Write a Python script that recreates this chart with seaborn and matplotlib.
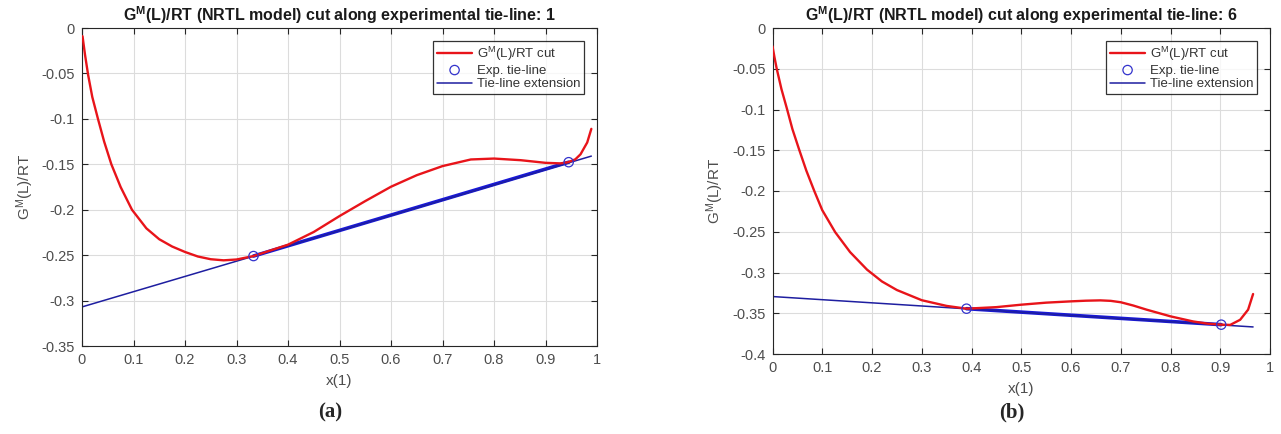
import matplotlib
matplotlib.use("Agg")
import matplotlib.pyplot as plt
import numpy as np
import pandas as pd
import seaborn as sns

# ---------------- data ----------------
# Panel (a): tie-line 1
a_curve_x = [0.001, 0.006, 0.012, 0.020, 0.031, 0.043, 0.057, 0.075, 0.097, 0.125,
             0.150, 0.175, 0.200, 0.225, 0.250, 0.275, 0.300, 0.333, 0.365, 0.400,
             0.450, 0.500, 0.550, 0.600, 0.650, 0.700, 0.755, 0.800, 0.852, 0.900, 0.929,
             0.944, 0.958, 0.968, 0.981, 0.989]
a_curve_y = [-0.009, -0.030, -0.052, -0.076, -0.100, -0.125, -0.150, -0.175, -0.200, -0.2205,
             -0.2325, -0.2405, -0.2465, -0.2515, -0.2545, -0.2557, -0.2548, -0.251, -0.245, -0.2385,
             -0.2245, -0.207, -0.1905, -0.1747, -0.162, -0.152, -0.1447, -0.1437, -0.1455, -0.1484, -0.149,
             -0.1477, -0.1445, -0.139, -0.126, -0.111]
a_tie_x = [0.333, 0.945]
a_tie_y = [-0.251, -0.1477]
a_ext_x = [0.0, 0.989]
a_ext_y = [-0.307, -0.141]

# Panel (b): tie-line 6
b_curve_x = [0.000, 0.004, 0.0085, 0.018, 0.029, 0.040, 0.054, 0.068, 0.084, 0.100, 0.126,
             0.156, 0.190, 0.220, 0.250, 0.300, 0.350, 0.390, 0.450, 0.500, 0.550, 0.600,
             0.630, 0.659, 0.680, 0.700, 0.725, 0.752, 0.800, 0.845, 0.875, 0.902, 0.920,
             0.940, 0.956, 0.966]
b_curve_y = [-0.0224, -0.036, -0.050, -0.075, -0.099, -0.124, -0.150, -0.175, -0.200, -0.2235, -0.2505,
             -0.275, -0.2965, -0.311, -0.3215, -0.334, -0.341, -0.3444, -0.3425, -0.3395, -0.337, -0.3354,
             -0.3346, -0.3342, -0.3348, -0.3365, -0.3405, -0.3456, -0.3538, -0.360, -0.3628, -0.364, -0.3643,
             -0.358, -0.3456, -0.3264]
b_tie_x = [0.390, 0.902]
b_tie_y = [-0.3444, -0.364]
b_ext_x = [0.0, 0.966]
b_ext_y = [-0.3295, -0.3668]

x_ticks = [0, 0.1, 0.2, 0.3, 0.4, 0.5, 0.6, 0.7, 0.8, 0.9, 1]
x_tick_labels = ["0", "0.1", "0.2", "0.3", "0.4", "0.5", "0.6", "0.7", "0.8", "0.9", "1"]
a_y_ticks = [-0.35, -0.3, -0.25, -0.2, -0.15, -0.1, -0.05, 0]
a_y_tick_labels = ["-0.35", "-0.3", "-0.25", "-0.2", "-0.15", "-0.1", "-0.05", "0"]
b_y_ticks = [-0.4, -0.35, -0.3, -0.25, -0.2, -0.15, -0.1, -0.05, 0]
b_y_tick_labels = ["-0.4", "-0.35", "-0.3", "-0.25", "-0.2", "-0.15", "-0.1", "-0.05", "0"]

titles = [r"G$^{\mathbf{M}}$(L)/RT (NRTL model) cut along experimental tie-line: 1",
          r"G$^{\mathbf{M}}$(L)/RT (NRTL model) cut along experimental tie-line: 6"]
panel_labels = ["(a)", "(b)"]
legend_labels = [r"G$^{\mathrm{M}}$(L)/RT cut", "Exp. tie-line", "Tie-line extension"]

# ---------------- style ----------------
sns.set_theme(style="whitegrid")
plt.rcParams["font.family"] = ["Liberation Sans", "DejaVu Sans"]
plt.rcParams["mathtext.fontset"] = "custom"
plt.rcParams["mathtext.rm"] = "Liberation Sans"
plt.rcParams["mathtext.bf"] = "Liberation Sans:bold"
plt.rcParams["mathtext.it"] = "Liberation Sans:italic"
plt.rcParams["axes.unicode_minus"] = False

fig = plt.figure(figsize=(12.81, 4.34), dpi=100)
ax_a = fig.add_axes([82 / 1281, 1 - 346 / 434, (597 - 82) / 1281, (346 - 28) / 434])
ax_b = fig.add_axes([772.5 / 1281, 1 - 354 / 434, (1270 - 772.5) / 1281, (354 - 28) / 434])

RED = "#e8141a"
BLUE = "#1818d8"
BLUE_THIN = "#1e1ea0"

panels = [
    (ax_a, a_curve_x, a_curve_y, a_tie_x, a_tie_y, a_ext_x, a_ext_y, a_y_ticks, a_y_tick_labels, (-0.35, 0)),
    (ax_b, b_curve_x, b_curve_y, b_tie_x, b_tie_y, b_ext_x, b_ext_y, b_y_ticks, b_y_tick_labels, (-0.4, 0)),
]

for i, (ax, cx, cy, tx, ty, ex, ey, yt, ytl, ylim) in enumerate(panels):
    curve = pd.DataFrame({"x": cx, "y": cy})
    tie = pd.DataFrame({"x": tx, "y": ty})
    ext = pd.DataFrame({"x": ex, "y": ey})
    sns.lineplot(data=curve, x="x", y="y", ax=ax, color=RED, linewidth=1.7,
                 sort=False, estimator=None, label=legend_labels[0], zorder=3)
    sns.lineplot(data=tie, x="x", y="y", ax=ax, color=BLUE, linewidth=2.6,
                 sort=False, estimator=None, legend=False, zorder=2)
    sns.scatterplot(data=tie, x="x", y="y", ax=ax, marker="o", s=45,
                    facecolor="none", edgecolor="#3333cc", linewidth=0.9,
                    label=legend_labels[1], zorder=4)
    sns.lineplot(data=ext, x="x", y="y", ax=ax, color=BLUE_THIN, linewidth=1.1,
                 sort=False, estimator=None, label=legend_labels[2], zorder=2)

    ax.set_xlim(0, 1)
    ax.set_ylim(*ylim)
    ax.set_xticks(x_ticks)
    ax.set_xticklabels(x_tick_labels)
    ax.set_yticks(yt)
    ax.set_yticklabels(ytl)
    ax.tick_params(axis="both", which="both", direction="in", length=4, width=0.8,
                   colors="#262626", labelcolor="#4d4d4d", labelsize=10.5,
                   top=True, right=True, bottom=True, left=True, pad=5)
    ax.grid(True, color="#dcdcdc", linewidth=0.8)
    ax.set_facecolor("white")
    for s in ax.spines.values():
        s.set_visible(True)
        s.set_color("#262626")
        s.set_linewidth(0.8)
    ax.set_xlabel("x(1)", fontsize=11, color="#4d4d4d", labelpad=5)
    ax.set_ylabel(r"G$^{\mathrm{M}}$(L)/RT", fontsize=11, color="#4d4d4d", labelpad=4)
    ax.set_title(titles[i], fontsize=11.5, fontweight="bold", color="#1a1a1a", pad=5)

    leg = ax.legend(loc="upper right", fontsize=9.5, frameon=True, fancybox=False,
                    edgecolor="black", borderpad=0.3, handlelength=2.6,
                    labelspacing=0.12, handletextpad=0.4, borderaxespad=0.95)
    leg.get_frame().set_linewidth(0.9)
    for t in leg.get_texts():
        t.set_color("#333333")

fig.text(330 / 1281, 1 - 412 / 434, panel_labels[0], ha="center", va="center",
         fontsize=15, fontweight="bold", family="Liberation Serif")
fig.text(1012 / 1281, 1 - 412 / 434, panel_labels[1], ha="center", va="center",
         fontsize=15, fontweight="bold", family="Liberation Serif")

fig.savefig("out.png", dpi=100, facecolor="white")
